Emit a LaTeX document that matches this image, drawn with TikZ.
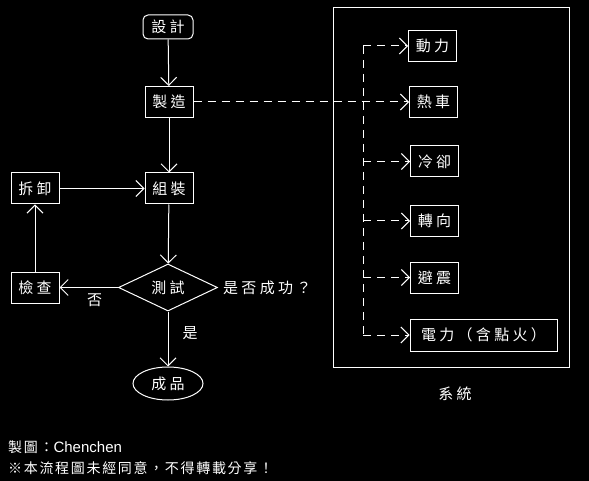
\documentclass[tikz,border=0pt]{standalone}
\usepackage{fontspec}
\setmainfont{Liberation Sans}
\newfontfamily\cjk[LetterSpace=22]{Noto Sans CJK TC}
\newfontfamily\cjkfoot[LetterSpace=12]{Noto Sans CJK TC}
\usetikzlibrary{arrows.meta,shapes.geometric}
\begin{document}
\begin{tikzpicture}[x=1pt,y=-1pt,
  every node/.style={text=white,font=\cjk\fontsize{15}{17}\selectfont,inner sep=0pt},
  box/.style={draw=white,line width=1pt,minimum width=48pt,minimum height=31pt},
  conn/.style={draw=white,line width=1pt,-{Straight Barb[length=8pt,width=16pt,line width=1pt]}},
  dconn/.style={conn,dash pattern=on 8pt off 6pt},
  dline/.style={draw=white,line width=1pt,dash pattern=on 8pt off 6pt},
  lbl/.style={font=\cjk\fontsize{15}{17}\selectfont}]
\fill[black] (0,0) rectangle (589,481);
\useasboundingbox (0,0) rectangle (589,481);
% left flow
\node[box,rounded corners=5pt,minimum width=50pt,minimum height=24pt] (sheji) at (168,27) {設計};
\node[box] (zhizao) at (169,102) {製造};
\node[box] (zuzhuang) at (169,188.5) {組裝};
\node[box] (chaixie) at (35,188.5) {拆卸};
\node[box] (jiancha) at (35,287.5) {檢查};
\node[draw=white,line width=1pt,diamond,aspect=2.1,minimum width=99pt,minimum height=47pt] (ceshi) at (168,287.5) {測試};
\node[draw=white,line width=1pt,ellipse,minimum width=70pt,minimum height=33pt] (chengpin) at (168,383.5) {成品};
\node[lbl,anchor=west,xshift=5pt] (q) at (ceshi.east) {是否成功？};
\draw[conn] (sheji) -- (zhizao);
\draw[conn] (zhizao) -- (zuzhuang);
\draw[conn] (zuzhuang) -- (ceshi);
\draw[conn] (chaixie) -- (zuzhuang);
\draw[conn] (jiancha) -- (chaixie);
\draw[conn] (ceshi) -- node[pos=0.4,below=6pt,lbl] {否} (jiancha);
\draw[conn] (ceshi) -- node[pos=0.4,right=14pt,lbl] {是} (chengpin);
% system box
\node[draw=white,line width=1pt,minimum width=236pt,minimum height=359pt] (sys) at (451.5,187.5) {};
\node[lbl] (xitong) at (455,394) {系統};
\node[box] (dongli) at (432.5,46) {動力};
\node[box] (reche) at (433.5,102) {熱車};
\node[box] (lengque) at (434.5,161.5) {冷卻};
\node[box] (zhuanxiang) at (434.5,221) {轉向};
\node[box] (bizhen) at (434.5,277.5) {避震};
\node[box,minimum width=147pt,minimum height=32pt] (dianli) at (483.5,335) {電力（含點火）};
\coordinate (tx) at (363,0);
\coordinate (ttop) at (tx |- dongli.west);
\coordinate (tbot) at (tx |- dianli.west);
\path[dline] (ttop) -- (tbot);
\draw[dconn] (zhizao) -- (reche);
\draw[dconn] (ttop) -- (dongli);
\draw[dconn] (tx |- lengque.west) -- (lengque);
\draw[dconn] (tx |- zhuanxiang.west) -- (zhuanxiang);
\draw[dconn] (tx |- bizhen.west) -- (bizhen);
\draw[dconn] (tbot) -- (dianli);
% footer
\node[anchor=west,font=\cjkfoot\fontsize{14}{16}\selectfont] (credit) at (8,447) {製圖：{\rmfamily\fontsize{15}{17}\selectfont Chenchen}};
\node[anchor=west,font=\cjkfoot\fontsize{14}{16}\selectfont] (note) at (8,468) {※本流程圖未經同意，不得轉載分享！};
\end{tikzpicture}
\end{document}
